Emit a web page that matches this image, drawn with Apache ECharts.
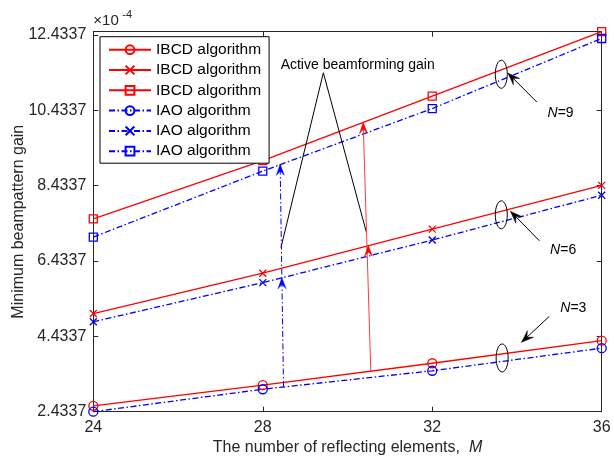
<!DOCTYPE html>
<html>
<head>
<meta charset="utf-8">
<script src="https://cdn.jsdelivr.net/npm/echarts@6/dist/echarts.min.js"></script>
<style>
  html, body { margin: 0; padding: 0; background: #fff; }
  #chart { width: 614px; height: 458px; }
</style>
</head>
<body>
<div id="chart"></div>
<script>
// Number of reflecting elements M
const elements = [24, 28, 32, 36];

// Minimum beampattern gain (x 1e-4), IBCD algorithm
const ibcdN3 = [2.59, 3.14, 3.72, 4.32];
const ibcdN6 = [5.04, 6.11, 7.28, 8.44];
const ibcdN9 = [7.55, 9.10, 10.81, 12.52];

// Minimum beampattern gain (x 1e-4), IAO algorithm
const iaoN3 = [2.4337, 3.03, 3.52, 4.12];
const iaoN6 = [4.82, 5.86, 6.99, 8.18];
const iaoN9 = [7.07, 8.82, 10.48, 12.34];

// Axis ticks
const xTicks = [24, 28, 32, 36];
const yTicks = [2.4337, 4.4337, 6.4337, 8.4337, 10.4337, 12.4337];
const yMin = 2.4337;
const yMax = 12.52;

const legendText = {
  ibcd3: 'IBCD algorithm', ibcd6: 'IBCD algorithm', ibcd9: 'IBCD algorithm',
  iao3: 'IAO algorithm', iao6: 'IAO algorithm', iao9: 'IAO algorithm'
};

const FONT = '"Liberation Sans", Arial, Helvetica, sans-serif';
const AXIS = '#262626';
const RED = '#ff0000';
const BLUE = '#0000ff';
const DASHDOT = [6, 2.5, 1.5, 2.5];
const CROSS = 'path://M0,0L10,10M10,0L0,10';

function pairs(ys) { return elements.map((x, i) => [x, ys[i]]); }

function lineSeries(name, ys, color, symbol, size, dashed) {
  return {
    name: name,
    type: 'line',
    data: pairs(ys),
    clip: false,
    symbol: symbol,
    symbolSize: size,
    lineStyle: { color: color, width: 1.3, type: dashed ? DASHDOT : 'solid' },
    itemStyle: { color: symbol === CROSS ? color : 'rgba(0,0,0,0)', borderColor: color, borderWidth: 1.3 },
    emphasis: { disabled: true },
    animation: false
  };
}

function xAxisCfg(pos) {
  return {
    type: 'value', position: pos, min: xTicks[0], max: xTicks[xTicks.length - 1], interval: 4,
    axisLine: { show: true, lineStyle: { color: AXIS, width: 1 } },
    axisTick: { show: true, inside: true, length: 5, lineStyle: { color: AXIS } },
    axisLabel: { show: pos === 'bottom', color: AXIS, fontSize: 16, fontFamily: FONT, margin: 8 },
    splitLine: { show: false }
  };
}

function yAxisCfg(pos) {
  return {
    type: 'value', position: pos, min: yMin, max: yMax,
    axisLine: { show: true, onZero: false, lineStyle: { color: AXIS, width: 1 } },
    axisTick: { show: true, inside: true, length: 5, customValues: yTicks, lineStyle: { color: AXIS } },
    axisLabel: {
      show: pos === 'left', color: AXIS, fontSize: 16, fontFamily: FONT, margin: 7,
      customValues: yTicks, formatter: v => Number(v).toFixed(4)
    },
    splitLine: { show: false }
  };
}

const option = {
  backgroundColor: '#fff',
  animation: false,
  grid: { left: 93.3, right: 12.3, top: 31.7, bottom: 46.3, containLabel: false, outerBoundsMode: 'none' },
  xAxis: [
    Object.assign(xAxisCfg('bottom'), {
      name: '{n|The number of reflecting elements,  }{i|M}',
      nameLocation: 'middle', nameGap: 28, nameMoveOverlap: false,
      nameTextStyle: {
        rich: {
          n: { fontSize: 16, fontFamily: FONT, color: AXIS },
          i: { fontSize: 16, fontFamily: FONT, color: AXIS, fontStyle: 'italic' }
        }
      }
    }),
    xAxisCfg('top')
  ],
  yAxis: [
    Object.assign(yAxisCfg('left'), {
      name: 'Minimum beampattern gain', nameLocation: 'middle', nameGap: 67, nameRotate: 90,
      nameMoveOverlap: false,
      nameTextStyle: { fontSize: 16, fontFamily: FONT, color: AXIS }
    }),
    yAxisCfg('right')
  ],
  legend: {
    orient: 'vertical', left: 100, top: 36.7,
    data: ['ibcd3', 'ibcd6', 'ibcd9', 'iao3', 'iao6', 'iao9'],
    formatter: n => legendText[n],
    itemWidth: 42, itemHeight: 11, itemGap: 4.3,
    padding: [5, 8, 4, 8],
    backgroundColor: '#fff', borderColor: '#000', borderWidth: 1, borderRadius: 0,
    textStyle: { fontSize: 15.5, fontFamily: FONT, color: '#000', lineHeight: 16 },
    selectedMode: false
  },
  series: [
    lineSeries('ibcd3', ibcdN3, RED, 'circle', 9, false),
    lineSeries('ibcd6', ibcdN6, RED, CROSS, 7, false),
    lineSeries('ibcd9', ibcdN9, RED, 'rect', 8, false),
    lineSeries('iao3', iaoN3, BLUE, 'circle', 9, true),
    lineSeries('iao6', iaoN6, BLUE, CROSS, 7, true),
    lineSeries('iao9', iaoN9, BLUE, 'rect', 8, true)
  ]
};

const chart = echarts.init(document.getElementById('chart'), null, { renderer: 'canvas' });
chart.setOption(option);

// ---- annotations, positioned in data coordinates ----
const P = p => chart.convertToPixel({ gridIndex: 0 }, p);

function arrowHead(tip, from, len, half, color) {
  const dx = tip[0] - from[0], dy = tip[1] - from[1];
  const d = Math.hypot(dx, dy);
  const ux = dx / d, uy = dy / d, px = -uy, py = ux;
  const bx = tip[0] - ux * len, by = tip[1] - uy * len;
  const nx = tip[0] - ux * len * 0.6, ny = tip[1] - uy * len * 0.6;
  return {
    type: 'polygon', silent: true, z: 20,
    shape: { points: [tip, [bx + px * half, by + py * half], [nx, ny], [bx - px * half, by - py * half]] },
    style: { fill: color, stroke: color, lineWidth: 0.5 }
  };
}
function seg(a, b, color, width, dash) {
  return {
    type: 'line', silent: true, z: 15,
    shape: { x1: a[0], y1: a[1], x2: b[0], y2: b[1] },
    style: { stroke: color, lineWidth: width, lineDash: dash || null }
  };
}
function txt(p, parts, align) {
  return {
    type: 'text', silent: true, z: 20, x: p[0], y: p[1],
    style: {
      text: parts, align: align || 'center', verticalAlign: 'middle',
      font: '14px ' + FONT, fill: '#000',
      rich: { it: { fontStyle: 'italic', fontSize: 14, fontFamily: FONT }, n: { fontSize: 14, fontFamily: FONT } }
    }
  };
}

// Active beamforming gain: pointer lines
const gainLabel = [30.24, 11.63], apex = [29.43, 11.43];
const legL = [28.43, 6.79], legR = [30.45, 7.18];

// Vertical gain arrows (IAO: dash-dot blue, IBCD: solid red)
const blueBase = [28.49, 3.09], blueMid = [28.45, 5.99], blueTop = [28.41, 9.0];
const redBase = [30.55, 3.51], redMid = [30.49, 6.85], redTop = [30.37, 10.11];

// N groups: ellipse centre, arrow tail, arrow tip, label position
const groups = [
  { c: [33.63, 11.39], tail: [34.47, 10.65], tip: [33.79, 11.42], lab: [35.03, 10.37], n: '9' },
  { c: [33.63, 7.66], tail: [34.53, 6.97], tip: [33.85, 7.75], lab: [35.09, 6.71], n: '6' },
  { c: [33.65, 3.86], tail: [34.76, 4.96], tip: [34.11, 4.28], lab: [35.33, 5.18], n: '3' }
];

const g = [];
const a = P(apex);
g.push(seg(a, P(legL), '#000', 1));
g.push(seg(a, P(legR), '#000', 1));
g.push(txt(P(gainLabel), 'Active beamforming gain'));

g.push(seg(P(blueBase), P(blueTop), BLUE, 1, DASHDOT));
g.push(arrowHead(P(blueMid), P(blueBase), 11, 4, BLUE));
g.push(arrowHead(P(blueTop), P(blueBase), 11, 4, BLUE));
g.push(seg(P(redBase), P(redTop), '#ff3c3c', 1));
g.push(arrowHead(P(redMid), P(redBase), 11, 4, RED));
g.push(arrowHead(P(redTop), P(redBase), 11, 4, RED));

groups.forEach(gr => {
  const c = P(gr.c);
  g.push({ type: 'ellipse', silent: true, z: 20, shape: { cx: c[0], cy: c[1], rx: 6, ry: 14 },
           style: { fill: 'none', stroke: '#000', lineWidth: 1 } });
  const tl = P(gr.tail), tp = P(gr.tip);
  g.push(seg(tl, tp, '#000', 1));
  g.push(arrowHead(tp, tl, 12, 4.5, '#000'));
  g.push(txt(P(gr.lab), '{it|N}{n|=' + gr.n + '}'));
});

// Exponent marker above the y axis
const corner = P([24, yMax]);
g.push({ type: 'text', silent: true, z: 20, x: corner[0], y: corner[1] - 3,
         style: { text: '×10', font: '15px ' + FONT, fill: AXIS, align: 'left', verticalAlign: 'bottom' } });
g.push({ type: 'text', silent: true, z: 20, x: corner[0] + 29, y: corner[1] - 11,
         style: { text: '-4', font: '11px ' + FONT, fill: AXIS, align: 'left', verticalAlign: 'bottom' } });

chart.setOption({ graphic: { elements: g } });
</script>
</body>
</html>
